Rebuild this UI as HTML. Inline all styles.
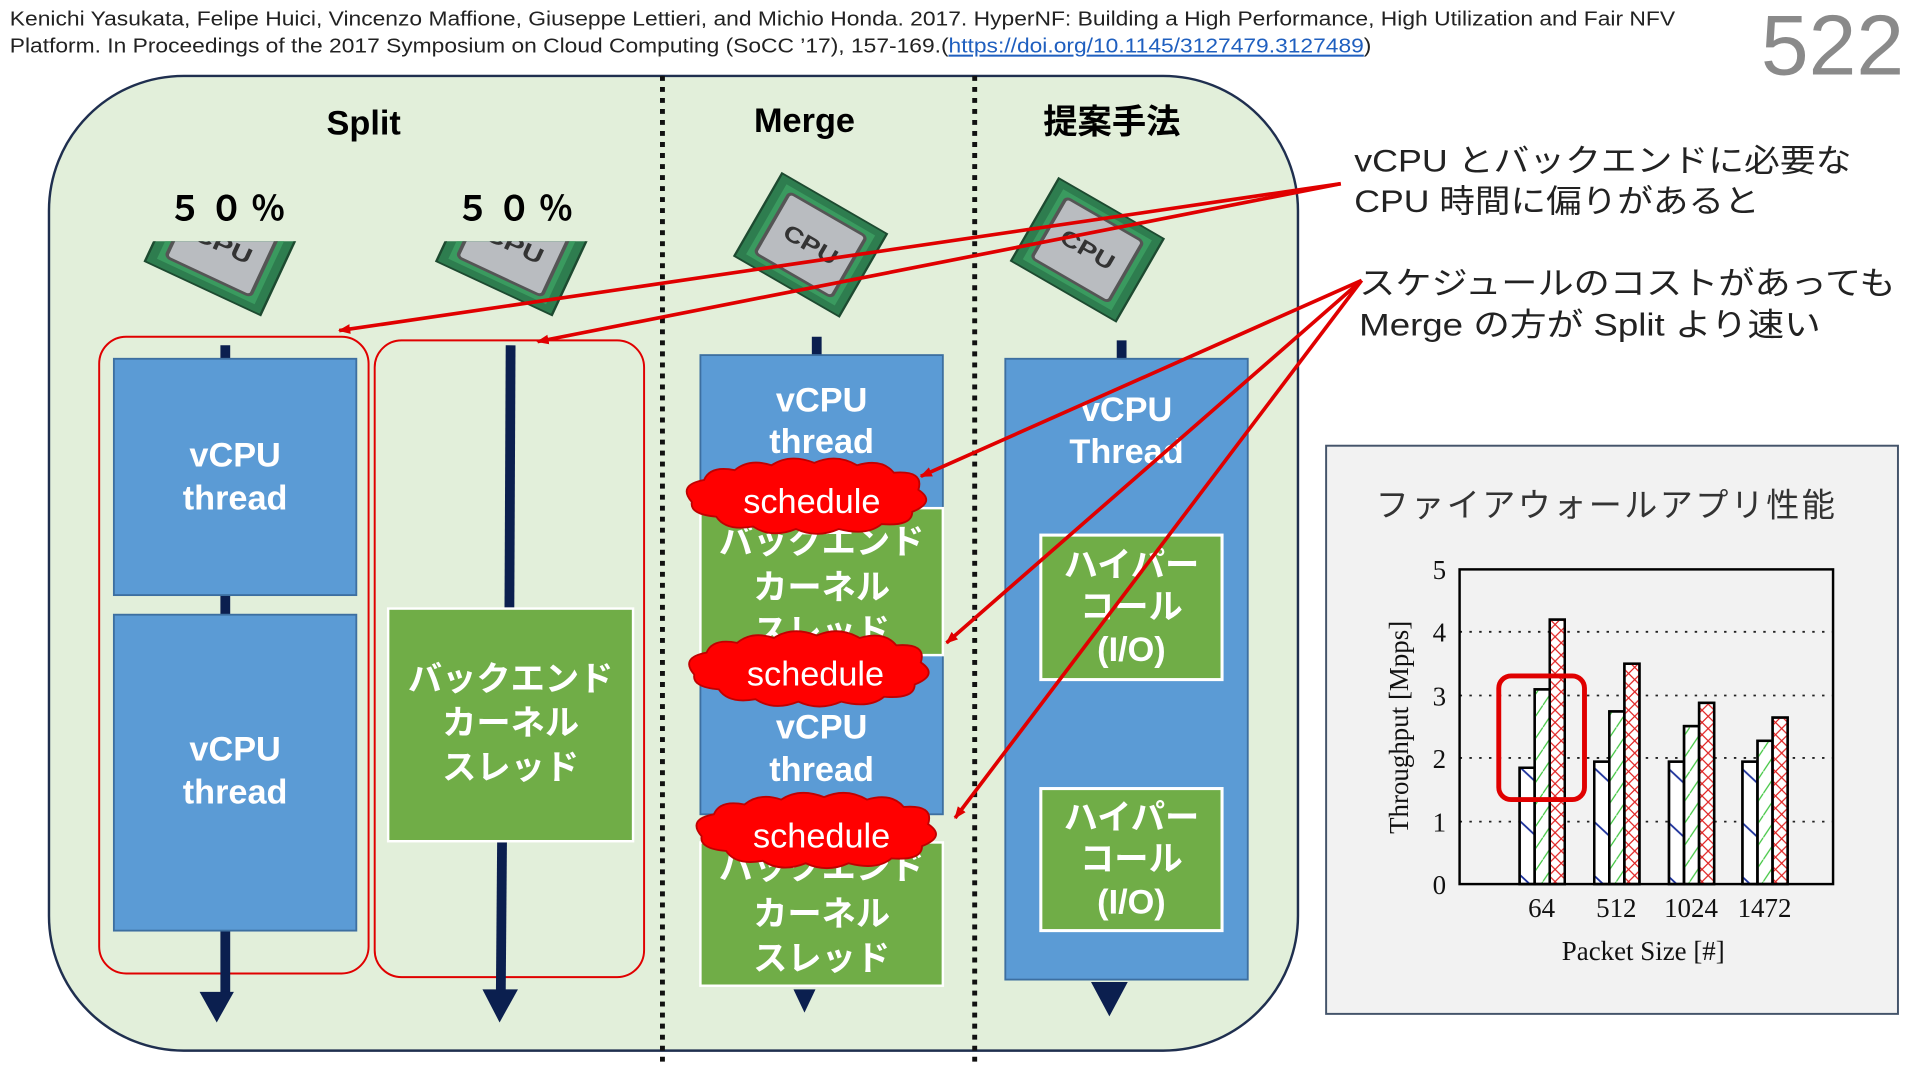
<!DOCTYPE html>
<html><head><meta charset="utf-8"><style>
html,body{margin:0;padding:0;background:#fff;width:1920px;height:1080px;overflow:hidden}
.s{font-family:"Liberation Sans","Noto Sans CJK JP",sans-serif}
.r{font-family:"Liberation Serif","Noto Serif CJK SC",serif}
</style></head><body>
<svg width="1920" height="1080" viewBox="0 0 1568 882" xmlns="http://www.w3.org/2000/svg">
<defs>
<pattern id="pb" width="30" height="44" patternUnits="userSpaceOnUse"><line x1="0" y1="0" x2="30" y2="28" stroke="#1a2f9a" stroke-width="1.5"/></pattern>
<pattern id="pg" width="12" height="18" patternUnits="userSpaceOnUse"><line x1="0" y1="18" x2="12" y2="0" stroke="#3ac43a" stroke-width="1"/></pattern>
<pattern id="pr" width="10" height="10" patternUnits="userSpaceOnUse"><line x1="0" y1="0" x2="10" y2="10" stroke="#e02020" stroke-width="1"/><line x1="10" y1="0" x2="0" y2="10" stroke="#e02020" stroke-width="1"/></pattern>
<marker id="ar" markerWidth="10" markerHeight="8" refX="9" refY="4" orient="auto" markerUnits="userSpaceOnUse"><path d="M0,0 L10,4 L0,8z" fill="#e00000"/></marker>
<g id="cpu">
<rect x="-52" y="-52" width="104" height="104" fill="#2e7d4f" stroke="#1d4a30" stroke-width="2"/>
<rect x="-44" y="-44" width="88" height="88" fill="#3a9a5f"/>
<rect x="-38" y="-38" width="76" height="76" rx="4" fill="#b9bcc0" stroke="#555" stroke-width="3"/>
<text class="s" x="0" y="8" font-size="24" font-weight="bold" text-anchor="middle" fill="#333">CPU</text>
</g>
<clipPath id="cl"><rect x="0" y="197" width="600" height="200"/></clipPath>
</defs>
<g class="s">
<text x="8" y="21" font-size="16.5" fill="#222" textLength="1360" lengthAdjust="spacingAndGlyphs">Kenichi Yasukata, Felipe Huici, Vincenzo Maffione, Giuseppe Lettieri, and Michio Honda. 2017. HyperNF: Building a High Performance, High Utilization and Fair NFV</text>
<text x="8" y="43" font-size="16.5" fill="#222" textLength="1112" lengthAdjust="spacingAndGlyphs">Platform. In Proceedings of the 2017 Symposium on Cloud Computing (SoCC ’17), 157-169.(<tspan fill="#1f5fbf" text-decoration="underline">https://doi.org/10.1145/3127479.3127489</tspan>)</text>
<text x="1438" y="61" font-size="70" fill="#8a8a8a" textLength="117" lengthAdjust="spacingAndGlyphs">522</text>

<rect x="40" y="62" width="1020" height="796" rx="110" fill="#e2efda" stroke="#1f2f4f" stroke-width="2"/>
<line x1="541" y1="62" x2="541" y2="868" stroke="#111" stroke-width="4" stroke-dasharray="4,5"/>
<line x1="796" y1="62" x2="796" y2="868" stroke="#111" stroke-width="4" stroke-dasharray="4,5"/>

<text x="297" y="110" font-size="28" font-weight="bold" text-anchor="middle">Split</text>
<text x="657" y="108" font-size="28" font-weight="bold" text-anchor="middle">Merge</text>
<text x="908" y="109" font-size="28" font-weight="bold" text-anchor="middle">提案手法</text>
<text x="188" y="180" font-size="28" font-weight="bold" text-anchor="middle" letter-spacing="6">５０％</text>
<text x="423" y="180" font-size="28" font-weight="bold" text-anchor="middle" letter-spacing="6">５０％</text>
</g>
<g clip-path="url(#cl)">
<use href="#cpu" transform="translate(182,200) rotate(25) scale(1.0,0.75)"/>
<use href="#cpu" transform="translate(420,200) rotate(25) scale(1.0,0.75)"/>
</g>
<use href="#cpu" transform="translate(662,200) rotate(30) scale(0.95,0.75)"/>
<use href="#cpu" transform="translate(888,204) rotate(30) scale(0.95,0.75)"/>

<g class="s">
<rect x="81" y="275" width="220" height="520" rx="22" fill="none" stroke="#e00000" stroke-width="1.6"/>
<line x1="184" y1="282" x2="184" y2="815" stroke="#0b1f4f" stroke-width="8"/>
<path d="M163,810 L191,810 L177,835z" fill="#0b1f4f"/>
<rect x="93" y="293" width="198" height="193" fill="#5b9bd5" stroke="#3d6fa0" stroke-width="1.5"/>
<rect x="93" y="502" width="198" height="258" fill="#5b9bd5" stroke="#3d6fa0" stroke-width="1.5"/>
<g font-size="28" font-weight="bold" fill="#fff" text-anchor="middle">
<text x="192" y="381">vCPU</text><text x="192" y="416">thread</text>
<text x="192" y="621">vCPU</text><text x="192" y="656">thread</text>
</g>
<rect x="306" y="278" width="220" height="520" rx="22" fill="none" stroke="#e00000" stroke-width="1.6"/>
<line x1="417" y1="282" x2="416" y2="497" stroke="#0b1f4f" stroke-width="8"/>
<line x1="410" y1="687" x2="409" y2="810" stroke="#0b1f4f" stroke-width="8"/>
<path d="M394,808 L423,808 L408,835z" fill="#0b1f4f"/>
<rect x="317" y="497" width="200" height="190" fill="#70ad47" stroke="#fff" stroke-width="2"/>
<g font-size="28" font-weight="bold" fill="#fff" text-anchor="middle">
<text x="417" y="564">バックエンド</text><text x="417" y="600">カーネル</text><text x="417" y="636">スレッド</text>
</g>

<line x1="667" y1="275" x2="667" y2="292" stroke="#0b1f4f" stroke-width="8"/>
<path d="M648,808 L666,808 L657,827z" fill="#0b1f4f"/>
<rect x="572" y="290" width="198" height="375" fill="#5b9bd5" stroke="#3d6fa0" stroke-width="1.5"/>
<rect x="572" y="415" width="198" height="120" fill="#70ad47" stroke="#fff" stroke-width="2"/>
<rect x="572" y="688" width="198" height="117" fill="#70ad47" stroke="#fff" stroke-width="2"/>
<g font-size="28" font-weight="bold" fill="#fff" text-anchor="middle">
<text x="671" y="336">vCPU</text><text x="671" y="370">thread</text>
<text x="671" y="452">バックエンド</text><text x="671" y="489">カーネル</text><text x="671" y="525">スレッド</text>
<text x="671" y="603">vCPU</text><text x="671" y="638">thread</text>
<text x="671" y="718">バックエンド</text><text x="671" y="756">カーネル</text><text x="671" y="792">スレッド</text>
</g>
<g fill="#ff0000" stroke="#c00000" stroke-width="1.5">
<path d="M565,410 q-12,-14 10,-18 q5,-12 25,-8 q12,-10 30,-4 q15,-10 35,-2 q18,-8 35,2 q20,-6 30,6 q25,-2 20,14 q15,10 -5,18 q0,12 -25,10 q-12,10 -35,4 q-18,8 -35,0 q-20,8 -35,-2 q-22,4 -30,-8 q-22,-2 -20,-12z"/>
<path d="M567,551 q-12,-14 10,-18 q5,-12 25,-8 q12,-10 30,-4 q15,-10 35,-2 q18,-8 35,2 q20,-6 30,6 q25,-2 20,14 q15,10 -5,18 q0,12 -25,10 q-12,10 -35,4 q-18,8 -35,0 q-20,8 -35,-2 q-22,4 -30,-8 q-22,-2 -20,-12z"/>
<path d="M573,683 q-12,-14 10,-18 q5,-12 25,-8 q12,-10 30,-4 q15,-10 35,-2 q18,-8 35,2 q20,-6 30,6 q25,-2 20,14 q15,10 -5,18 q0,12 -25,10 q-12,10 -35,4 q-18,8 -35,0 q-20,8 -35,-2 q-22,4 -30,-8 q-22,-2 -20,-12z"/>
</g>
<g font-size="28" fill="#fff" text-anchor="middle">
<text x="663" y="419">schedule</text><text x="666" y="560">schedule</text><text x="671" y="692">schedule</text>
</g>

<line x1="916" y1="278" x2="916" y2="295" stroke="#0b1f4f" stroke-width="8"/>
<path d="M891,802 L921,802 L906,830z" fill="#0b1f4f"/>
<rect x="821" y="293" width="198" height="507" fill="#5b9bd5" stroke="#3d6fa0" stroke-width="1.5"/>
<rect x="850" y="437" width="148" height="118" fill="#70ad47" stroke="#fff" stroke-width="2.5"/>
<rect x="850" y="644" width="148" height="116" fill="#70ad47" stroke="#fff" stroke-width="2.5"/>
<g font-size="28" font-weight="bold" fill="#fff" text-anchor="middle">
<text x="920" y="344">vCPU</text><text x="920" y="378">Thread</text>
<text x="924" y="471">ハイパー</text><text x="924" y="505">コール</text><text x="924" y="540">(I/O)</text>
<text x="924" y="677">ハイパー</text><text x="924" y="711">コール</text><text x="924" y="746">(I/O)</text>
</g>

<g font-size="26" fill="#222">
<text x="1106" y="140" textLength="406" lengthAdjust="spacingAndGlyphs">vCPU とバックエンドに必要な</text>
<text x="1106" y="173" textLength="331" lengthAdjust="spacingAndGlyphs">CPU 時間に偏りがあると</text>
<text x="1110" y="240" textLength="438" lengthAdjust="spacingAndGlyphs">スケジュールのコストがあっても</text>
<text x="1110" y="274" textLength="377" lengthAdjust="spacingAndGlyphs">Merge の方が Split より速い</text>
</g>
</g>
<g stroke="#e00000" stroke-width="3" fill="none" marker-end="url(#ar)">
<line x1="1095" y1="150" x2="277" y2="270"/>
<line x1="1095" y1="150" x2="439" y2="279"/>
<line x1="1112" y1="229" x2="752" y2="389"/>
<line x1="1112" y1="229" x2="773" y2="525"/>
<line x1="1112" y1="229" x2="780" y2="668"/>
</g>

<rect x="1083" y="364" width="467" height="464" fill="#f2f2f2" stroke="#44546a" stroke-width="1.6"/>
<text class="s" x="1312" y="422" font-size="27" text-anchor="middle" fill="#333" letter-spacing="2">ファイアウォールアプリ性能</text>
<g stroke="#222" stroke-width="1.5" stroke-dasharray="2,6">
<line x1="1192" y1="516" x2="1497" y2="516"/><line x1="1192" y1="568" x2="1497" y2="568"/>
<line x1="1192" y1="619" x2="1497" y2="619"/><line x1="1192" y1="671" x2="1497" y2="671"/>
</g>
<g stroke="#000" stroke-width="2">
<rect x="1241" y="627" width="12.3" height="95" fill="#fff"/><rect x="1241" y="627" width="12.3" height="95" fill="url(#pb)"/>
<rect x="1253.3" y="563" width="12.3" height="159" fill="#fff"/><rect x="1253.3" y="563" width="12.3" height="159" fill="url(#pg)"/>
<rect x="1265.6" y="506" width="12.3" height="216" fill="#fff"/><rect x="1265.6" y="506" width="12.3" height="216" fill="url(#pr)"/>
<rect x="1302" y="622" width="12.3" height="100" fill="#fff"/><rect x="1302" y="622" width="12.3" height="100" fill="url(#pb)"/>
<rect x="1314.3" y="581" width="12.3" height="141" fill="#fff"/><rect x="1314.3" y="581" width="12.3" height="141" fill="url(#pg)"/>
<rect x="1326.6" y="542" width="12.3" height="180" fill="#fff"/><rect x="1326.6" y="542" width="12.3" height="180" fill="url(#pr)"/>
<rect x="1363" y="622" width="12.3" height="100" fill="#fff"/><rect x="1363" y="622" width="12.3" height="100" fill="url(#pb)"/>
<rect x="1375.3" y="593" width="12.3" height="129" fill="#fff"/><rect x="1375.3" y="593" width="12.3" height="129" fill="url(#pg)"/>
<rect x="1387.6" y="574" width="12.3" height="148" fill="#fff"/><rect x="1387.6" y="574" width="12.3" height="148" fill="url(#pr)"/>
<rect x="1423" y="622" width="12.3" height="100" fill="#fff"/><rect x="1423" y="622" width="12.3" height="100" fill="url(#pb)"/>
<rect x="1435.3" y="605" width="12.3" height="117" fill="#fff"/><rect x="1435.3" y="605" width="12.3" height="117" fill="url(#pg)"/>
<rect x="1447.6" y="586" width="12.3" height="136" fill="#fff"/><rect x="1447.6" y="586" width="12.3" height="136" fill="url(#pr)"/>
</g>
<rect x="1192" y="465" width="305" height="257" fill="none" stroke="#000" stroke-width="2"/>
<rect x="1224" y="552" width="70" height="101" rx="10" fill="none" stroke="#e00000" stroke-width="4"/>
<g class="r" font-size="22" fill="#111" text-anchor="end">
<text x="1181" y="473">5</text><text x="1181" y="524">4</text><text x="1181" y="576">3</text>
<text x="1181" y="627">2</text><text x="1181" y="679">1</text><text x="1181" y="730">0</text>
</g>
<g class="r" font-size="22" fill="#111" text-anchor="middle">
<text x="1259" y="749">64</text><text x="1320" y="749">512</text>
<text x="1381" y="749">1024</text><text x="1441" y="749">1472</text>
<text x="1342" y="784">Packet Size [#]</text>
<text x="0" y="0" transform="translate(1150,594) rotate(-90)">Throughput [Mpps]</text>
</g>
</svg>
</body></html>
